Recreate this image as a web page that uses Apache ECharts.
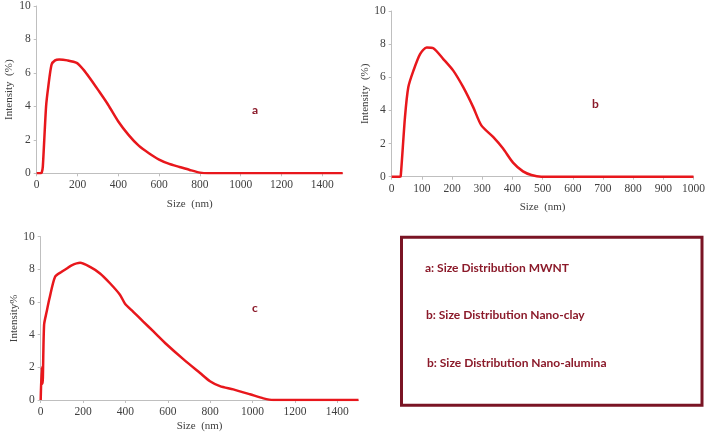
<!DOCTYPE html>
<html><head><meta charset="utf-8">
<script src="https://cdn.jsdelivr.net/npm/echarts@6/dist/echarts.min.js"></script>
<style>html,body{margin:0;padding:0;background:#fff}#c{width:708px;height:433px}</style>
</head><body><div id="c"></div>
<script>
var sizeA = [0, 20, 25, 30, 46, 57, 73, 90, 110, 150, 196, 229, 260, 300, 350, 400, 450, 500, 550, 600, 650, 700, 750, 800, 840, 1000, 1200, 1500];
var intA  = [0, 0, 0.05, 0.4, 4.0, 5.2, 6.5, 6.75, 6.8, 6.75, 6.6, 6.2, 5.7, 5.0, 4.1, 3.1, 2.3, 1.65, 1.2, 0.82, 0.56, 0.38, 0.2, 0.04, 0, 0, 0, 0];
var sizeB = [0, 27, 30, 44, 55, 72, 94, 116, 138, 171, 204, 237, 270, 297, 336, 369, 402, 435, 463, 496, 550, 700, 1000];
var intB  = [0, 0, 0.05, 3.6, 5.4, 6.4, 7.4, 7.8, 7.75, 7.1, 6.4, 5.4, 4.2, 3.1, 2.4, 1.7, 0.85, 0.32, 0.1, 0, 0, 0, 0];
var sizeC = [0, 5, 9, 16, 28, 41, 68, 99, 123, 146, 186, 233, 280, 327, 374, 398, 437, 484, 532, 595, 673, 752, 799, 846, 909, 988, 1051, 1098, 1200, 1500];
var intC  = [0, 2.0, 1.0, 4.6, 5.4, 6.2, 7.55, 7.85, 8.05, 8.25, 8.4, 8.15, 7.75, 7.15, 6.45, 5.9, 5.4, 4.8, 4.2, 3.4, 2.5, 1.65, 1.15, 0.85, 0.65, 0.35, 0.1, 0, 0, 0];
var yTicks = [0, 2, 4, 6, 8, 10];
var panelLabels = ['a', 'b', 'c'];
var legendLines = ['a: Size Distribution MWNT', 'b: Size Distribution Nano-clay', 'b: Size Distribution Nano-alumina'];
var xNames = ['Size  (nm)', 'Size  (nm)', 'Size  (nm)'];
var yNames = ['Intensity  (%)', 'Intensity  (%)', 'Intensity%'];

function zip(xs, ys) { return xs.map(function (x, i) { return [x, ys[i]]; }); }

var serif = 'Liberation Serif';
var axisColor = '#bfbfbf';
var textColor = '#404040';
var dark = '#8b1a2a';
function plain(v) { return String(v); }

function xAxis(idx, max, interval, gap) {
  return {
    type: 'value', gridIndex: idx, min: 0, max: max, interval: interval,
    name: xNames[idx], nameLocation: 'middle', nameGap: gap,
    nameTextStyle: { fontFamily: serif, fontSize: 11, color: textColor },
    axisLine: { lineStyle: { color: axisColor, width: 1 } },
    axisTick: { show: true, length: 3, lineStyle: { color: axisColor } },
    axisLabel: { fontFamily: serif, fontSize: 11.5, color: textColor, margin: 6, formatter: plain },
    splitLine: { show: false }
  };
}
function yAxis(idx, gap) {
  return {
    type: 'value', gridIndex: idx, min: yTicks[0], max: yTicks[yTicks.length - 1], interval: 2,
    name: yNames[idx], nameLocation: 'middle', nameGap: gap, nameRotate: 90,
    nameTextStyle: { fontFamily: serif, fontSize: 11, color: textColor },
    axisLine: { show: true, lineStyle: { color: axisColor, width: 1 } },
    axisTick: { show: true, length: 3, lineStyle: { color: axisColor } },
    axisLabel: { fontFamily: serif, fontSize: 11.5, color: textColor, margin: 6, formatter: plain },
    splitLine: { show: false }
  };
}
function series(idx, data) {
  return {
    type: 'line', xAxisIndex: idx, yAxisIndex: idx, data: data, smooth: 0.25,
    showSymbol: false, symbol: 'none',
    lineStyle: { color: '#e8171c', width: 2.5 }
  };
}

var chart = echarts.init(document.getElementById('c'), null, { renderer: 'canvas' });
chart.setOption({
  animation: false,
  backgroundColor: '#fff',
  grid: [
    { left: 36.7, top: 6, width: 306, height: 167.3 },
    { left: 391.7, top: 11, width: 302.6, height: 165.7 },
    { left: 40.7, top: 236.7, width: 317.8, height: 164 }
  ],
  xAxis: [xAxis(0, 1500, 200, 25), xAxis(1, 1000, 100, 25), xAxis(2, 1500, 200, 21)],
  yAxis: [yAxis(0, 22), yAxis(1, 21), yAxis(2, 21)],
  series: [series(0, zip(sizeA, intA)), series(1, zip(sizeB, intB)), series(2, zip(sizeC, intC))],
  graphic: [
    { type: 'text', left: 252, top: 104, style: { text: panelLabels[0], font: 'bold 12px Lato', fill: dark } },
    { type: 'text', left: 592, top: 98, style: { text: panelLabels[1], font: 'bold 12px Lato', fill: dark } },
    { type: 'text', left: 252, top: 302, style: { text: panelLabels[2], font: 'bold 12px Lato', fill: dark } },
    { type: 'rect', shape: { x: 401.5, y: 237.2, width: 300.5, height: 168 },
      style: { fill: 'none', stroke: '#7a1424', lineWidth: 3 } },
    { type: 'text', left: 425, top: 262, style: { text: legendLines[0], font: 'bold 12px Lato', fill: dark } },
    { type: 'text', left: 426, top: 309, style: { text: legendLines[1], font: 'bold 12px Lato', fill: dark } },
    { type: 'text', left: 427, top: 357, style: { text: legendLines[2], font: 'bold 12px Lato', fill: dark } }
  ]
});
</script></body></html>
